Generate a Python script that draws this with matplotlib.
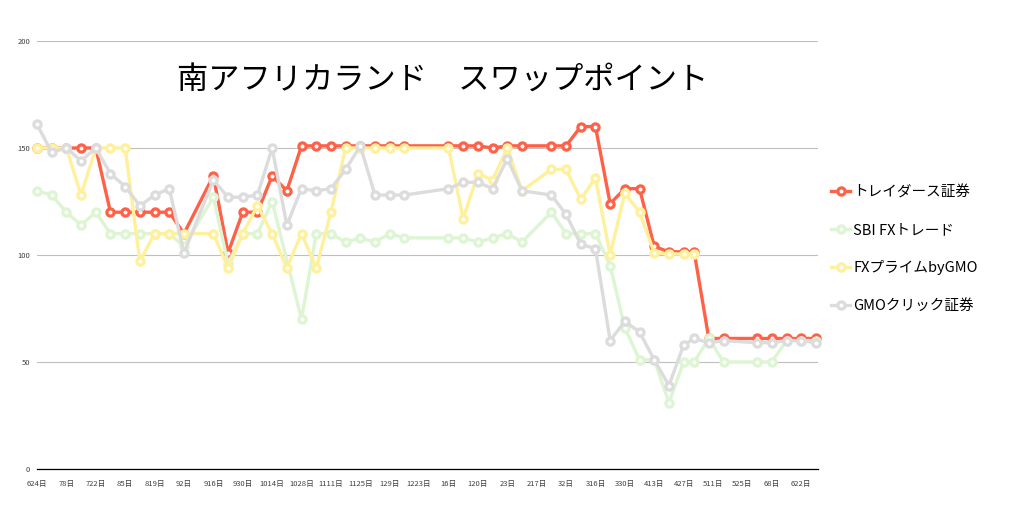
import matplotlib
matplotlib.use("Agg")
import matplotlib.pyplot as plt
import pandas as pd

plt.rcParams['font.family'] = ['Noto Sans CJK JP', 'DejaVu Sans']

# weekly swap points (None = no value that week)
dates = ['2019-06-24', '2019-07-01', '2019-07-08', '2019-07-15', '2019-07-22', '2019-07-29',
         '2019-08-05', '2019-08-12', '2019-08-19', '2019-08-26', '2019-09-02', '2019-09-16',
         '2019-09-23', '2019-09-30', '2019-10-07', '2019-10-14', '2019-10-21', '2019-10-28',
         '2019-11-04', '2019-11-11', '2019-11-18', '2019-11-25', '2019-12-02', '2019-12-09',
         '2019-12-16', '2020-01-06', '2020-01-13', '2020-01-20', '2020-01-27', '2020-02-03',
         '2020-02-10', '2020-02-24', '2020-03-02', '2020-03-09', '2020-03-16', '2020-03-23',
         '2020-03-30', '2020-04-06', '2020-04-13', '2020-04-20', '2020-04-27', '2020-05-02',
         '2020-05-09', '2020-05-16', '2020-06-01', '2020-06-08', '2020-06-15', '2020-06-22',
         '2020-06-29']

traders = [150, 150, 150, 150, 150, 120, 120, 120, 120, 120, 110,
           137, 101, 120, 120, 137, 130, 151, 151, 151, 151, 151, 151, 151, 151,
           151, 151, 151, 150, 151, 151,
           151, 151, 160, 160, 124, 131, 131, 104, 101.5, 101.5, 101.5, 61, 61,
           61, 61, 61, 61, 61]

sbi = [130, 128, 120, 114, 120, 110, 110, 110, 110, 110, 104,
       127, 96, 110, 110, 125, None, 70, 110, 110, 106, 108, 106, 110, 108,
       108, 108, 106, 108, 110, 106,
       120, 110, 110, 110, 95, 66, 51, 51, 31, 50, 50, 61, 50,
       50, 50, 60, 60, 60]

fxprime = [150, 150, 150, 128, 150, 150, 150, 97, 110, 110, 110,
           110, 94, 110, 123, 110, 94, 110, 94, 120, 150, 150, 150, 150, 150,
           150, 117, 138, 135, 150, 130,
           140, 140, 126, 136, 100, 129, 120, 101, 100.5, 100.5, 100.5, None, None,
           None, None, None, None, None]

gmo = [161, 148, 150, 144, 150, 138, 132, 123, 128, 131, 101,
       135, 127, 127, 128, 150, 114, 131, 130, 131, 140, 151, 128, 128, 128,
       131, 134, 134, 131, 145, 130,
       128, 119, 105, 103, 60, 69, 64, 51, 39, 58, 61, 59, 60,
       59, 59, 60, 60, 59]

names = ['トレイダース証券', 'SBI FXトレード', 'FXプライムbyGMO', 'GMOクリック証券']
colors = ['#FF6148', '#DDF5D2', '#FFF09C', '#DCDCDC']

tick_dates = pd.date_range('2019-06-24', '2020-06-22', freq='14D')
tick_labels = ['624日', '78日', '722日', '85日', '819日', '92日', '916日', '930日', '1014日',
               '1028日', '1111日', '1125日', '129日', '1223日', '16日', '120日', '23日', '217日',
               '32日', '316日', '330日', '413日', '427日', '511日', '525日', '68日', '622日']

fig = plt.figure(figsize=(10.13, 5.14), dpi=100)
ax = fig.add_axes([37 / 1013, 1 - 469 / 514, 781 / 1013, 428 / 514])

idx = pd.to_datetime(dates)
for name, vals, col in zip(names, [traders, sbi, fxprime, gmo], colors):
    s = pd.Series(vals, index=idx, dtype=float).dropna()
    ax.plot(s.index, s.values, color=col, lw=2.4, marker='o', ms=5.2,
            mfc='white', mec=col, mew=2.3, clip_on=False, label=name)

ax.set_ylim(0, 200)
ax.set_yticks([0, 50, 100, 150, 200])
ax.set_xlim(pd.Timestamp('2019-06-24'), pd.Timestamp('2020-06-30'))
ax.set_xticks(tick_dates)
ax.set_xticklabels(tick_labels)
ax.tick_params(axis='both', length=0, labelsize=5.5, colors='#404040')
ax.tick_params(axis='x', pad=8)
ax.tick_params(axis='y', pad=5)
ax.grid(axis='y', color='#BFBFBF', lw=0.8)
ax.set_axisbelow(True)
for sp in ['top', 'right', 'left']:
    ax.spines[sp].set_visible(False)
ax.spines['bottom'].set_color('#000000')
ax.spines['bottom'].set_linewidth(0.9)

fig.text(443 / 1013, 1 - 81 / 514, '南アフリカランド　スワップポイント',
         ha='center', va='center', fontsize=22.5, color='#000000')

fig.legend(loc='upper left', bbox_to_anchor=(818 / 1013, 1 - 172 / 514), frameon=False,
           fontsize=10.5, handlelength=1.3, handletextpad=0.2, labelspacing=1.62)

fig.savefig('out.png', dpi=100)
